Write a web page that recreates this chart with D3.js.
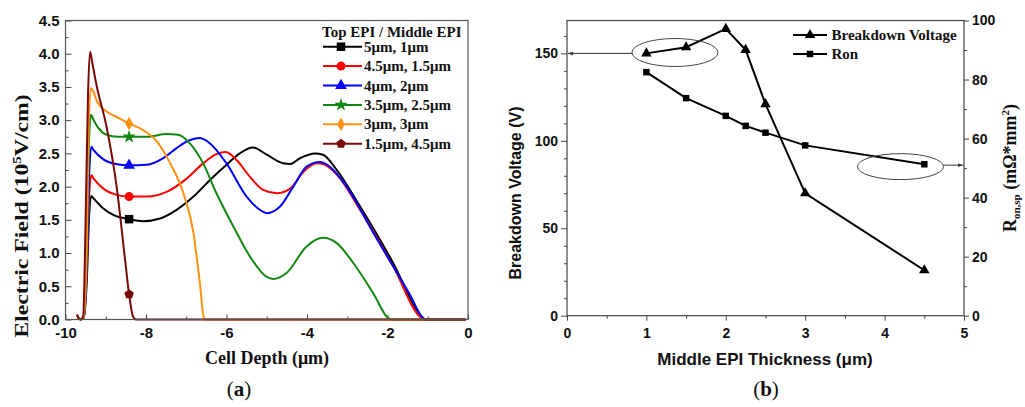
<!DOCTYPE html>
<html>
<head>
<meta charset="utf-8">
<script src="https://cdn.jsdelivr.net/npm/d3@7"></script>
<style>
  html, body { margin: 0; padding: 0; background: #fff; }
  svg { display: block; }
</style>
</head>
<body>
<svg id="fig" width="1025" height="407"></svg>
<script>
// ---------- (a) electric field vs. cell depth, one profile per Top/Middle EPI split ----------
const field5_1 = [[-9.72,0.07],[-9.63,0],[-9.55,0.03],[-9.47,0.6],[-9.41,1.6],[-9.36,1.86],[-9.3,1.82],[-9.06,1.67],[-8.8,1.57],[-8.42,1.51],[-8.07,1.48],[-7.65,1.52],[-7.24,1.65],[-6.82,1.85],[-6.41,2.1],[-6.0,2.33],[-5.67,2.5],[-5.35,2.59],[-5.0,2.48],[-4.59,2.35],[-4.42,2.34],[-4.17,2.43],[-3.8,2.5],[-3.6,2.48],[-3.26,2.25],[-2.68,1.7],[-1.86,0.85],[-1.19,0.07],[-1.07,0],[-0.05,0]];
const field45_15 = [[-9.72,0.07],[-9.63,0],[-9.55,0.03],[-9.47,0.7],[-9.41,1.9],[-9.36,2.17],[-9.3,2.12],[-9.06,1.97],[-8.75,1.88],[-8.42,1.85],[-7.98,1.85],[-7.49,1.92],[-6.99,2.12],[-6.58,2.35],[-6.25,2.49],[-6.02,2.52],[-5.75,2.4],[-5.42,2.15],[-5.09,1.95],[-4.75,1.9],[-4.42,1.97],[-4.09,2.22],[-3.76,2.35],[-3.6,2.34],[-3.26,2.18],[-2.68,1.65],[-1.86,0.8],[-1.15,0.02],[-1.08,0],[-0.05,0]];
const field4_2 = [[-9.72,0.07],[-9.63,0],[-9.55,0.03],[-9.47,0.8],[-9.41,2.2],[-9.36,2.6],[-9.3,2.55],[-9.06,2.41],[-8.75,2.34],[-8.42,2.32],[-7.98,2.33],[-7.57,2.43],[-7.24,2.58],[-6.95,2.69],[-6.68,2.73],[-6.41,2.65],[-6.0,2.35],[-5.5,1.85],[-5.17,1.65],[-5.0,1.6],[-4.67,1.7],[-4.34,2.0],[-4.01,2.3],[-3.68,2.37],[-3.43,2.3],[-3.1,2.07],[-2.27,1.22],[-1.44,0.37],[-1.11,0.02],[-1.04,0],[-0.05,0]];
const field35_25 = [[-9.72,0.07],[-9.63,0],[-9.55,0.03],[-9.47,1.0],[-9.42,2.6],[-9.37,3.08],[-9.3,3.0],[-9.18,2.88],[-8.98,2.78],[-8.7,2.75],[-8.42,2.75],[-7.98,2.75],[-7.49,2.79],[-7.2,2.78],[-6.91,2.65],[-6.58,2.35],[-6.25,1.9],[-5.83,1.4],[-5.42,0.95],[-5.0,0.64],[-4.84,0.61],[-4.51,0.7],[-4.01,1.1],[-3.6,1.23],[-3.26,1.15],[-2.85,0.85],[-2.35,0.39],[-1.98,0.02],[-1.9,0],[-0.05,0]];
const field3_3 = [[-9.72,0.07],[-9.63,0],[-9.55,0.03],[-9.47,1.2],[-9.42,3.0],[-9.37,3.48],[-9.3,3.42],[-9.23,3.3],[-8.98,3.13],[-8.7,3.04],[-8.42,2.95],[-8.07,2.85],[-7.73,2.68],[-7.4,2.35],[-7.07,1.9],[-6.82,1.3],[-6.66,0.54],[-6.56,0.02],[-6.5,0],[-0.05,0]];
const field15_45 = [[-9.72,0.07],[-9.63,0],[-9.56,0.05],[-9.5,1.5],[-9.44,3.4],[-9.39,4.03],[-9.33,3.85],[-9.23,3.53],[-8.98,2.9],[-8.73,2.0],[-8.52,0.9],[-8.42,0.38],[-8.32,0.04],[-8.25,0],[-0.05,0]];

const fieldSeries = [field5_1, field45_15, field4_2, field35_25, field3_3, field15_45];
const splitNames = ["5μm, 1μm", "4.5μm, 1.5μm", "4μm, 2μm", "3.5μm, 2.5μm", "3μm, 3μm", "1.5μm, 4.5μm"];
const splitColors = ["#000000", "#ff0000", "#0000ff", "#118811", "#ff9010", "#7a0a0a"];
const markerDepth = -8.42;
const depthTicks = [-10, -8, -6, -4, -2, 0];
const fieldTicks = [0, 0.5, 1, 1.5, 2, 2.5, 3, 3.5, 4, 4.5];

// ---------- (b) breakdown voltage and specific on-resistance vs. middle EPI thickness ----------
const middleEpi = [1, 1.5, 2, 2.25, 2.5, 3, 4.5];
const breakdownV = [150, 153.5, 164, 152, 121, 70, 26];
const ronSp = [82.5, 73.7, 67.7, 64.3, 62, 57.7, 51.3];
const thicknessTicks = [0, 1, 2, 3, 4, 5];
const voltageTicks = [0, 50, 100, 150];
const ronTicks = [0, 20, 40, 60, 80, 100];

const SERIF = "'Liberation Serif','Times New Roman',serif";
const SANS = "'Liberation Sans',Arial,sans-serif";
const svg = d3.select("#fig");

// pentagon marker for the last split
const symbolPentagon = {
  draw(ctx, size) {
    const r = Math.sqrt(size / 2.378);
    for (let i = 0; i < 5; i++) {
      const a = -Math.PI / 2 + i * 2 * Math.PI / 5;
      const px = r * Math.cos(a), py = r * Math.sin(a);
      if (i === 0) ctx.moveTo(px, py); else ctx.lineTo(px, py);
    }
    ctx.closePath();
  }
};
const splitSymbols = [d3.symbolSquare, d3.symbolCircle, d3.symbolTriangle, d3.symbolStar, d3.symbolDiamond, symbolPentagon];
const splitSizes = [72, 64, 60, 55, 52, 60];

function styleTicks(g, fontFamily, fontSize) {
  g.select(".domain").remove();
  g.selectAll(".tick line").attr("stroke", "#444").attr("stroke-width", 1);
  g.selectAll(".tick text").attr("font-family", fontFamily).attr("font-size", fontSize)
    .attr("font-weight", "bold").attr("fill", "#111");
}

// ================= panel (a) =================
const xA = d3.scaleLinear().domain([-10, 0]).range([65.5, 468]);
const yA = d3.scaleLinear().domain([0, 4.5]).range([319.5, 20.5]);
const gA = svg.append("g");

gA.append("g").attr("transform", `translate(0,${yA(0)})`)
  .call(d3.axisBottom(xA).tickValues(depthTicks).tickSize(-5).tickPadding(8).tickFormat(d => String(d)))
  .call(g => styleTicks(g, SANS, 15));
gA.append("g").attr("transform", `translate(0,${yA(0)})`)
  .call(d3.axisBottom(xA).tickValues(d3.range(-9, 0, 2)).tickSize(-3).tickFormat(""))
  .call(g => styleTicks(g, SANS, 15));
gA.append("g").attr("transform", `translate(${xA(-10)},0)`)
  .call(d3.axisLeft(yA).tickValues(fieldTicks).tickSize(-6).tickPadding(6).tickFormat(d3.format(".1f")))
  .call(g => styleTicks(g, SANS, 15));
gA.append("g").attr("transform", `translate(${xA(-10)},0)`)
  .call(d3.axisLeft(yA).tickValues(d3.range(0.25, 4.5, 0.5)).tickSize(-3).tickFormat(""))
  .call(g => styleTicks(g, SANS, 15));

const lineA = d3.line().x(d => xA(d[0])).y(d => yA(d[1])).curve(d3.curveMonotoneX);
fieldSeries.forEach((s, i) => {
  gA.append("path").datum(s).attr("d", lineA)
    .attr("fill", "none").attr("stroke", splitColors[i]).attr("stroke-width", 2)
    .attr("stroke-linejoin", "round");
});
fieldSeries.forEach((s, i) => {
  const p = s.find(d => d[0] === markerDepth);
  gA.append("path")
    .attr("d", d3.symbol().type(splitSymbols[i]).size(splitSizes[i])())
    .attr("transform", `translate(${xA(p[0])},${yA(p[1])})`)
    .attr("fill", splitColors[i]);
});

gA.append("rect").attr("x", xA(-10)).attr("y", yA(4.5))
  .attr("width", xA(0) - xA(-10)).attr("height", yA(0) - yA(4.5))
  .attr("fill", "none").attr("stroke", "#555").attr("stroke-width", 1.2);

// legend (a)
const legA = gA.append("g").attr("font-family", SERIF).attr("font-weight", "bold").attr("fill", "#111");
legA.append("text").attr("x", 322).attr("y", 36.5).attr("font-size", 15).text("Top EPI / Middle EPI");
splitNames.forEach((name, i) => {
  const cy = 46.7 + i * 19.4;
  legA.append("line").attr("x1", 323).attr("x2", 362).attr("y1", cy).attr("y2", cy)
    .attr("stroke", splitColors[i]).attr("stroke-width", 2);
  legA.append("path").attr("d", d3.symbol().type(splitSymbols[i]).size(splitSizes[i])())
    .attr("transform", `translate(341,${cy})`).attr("fill", splitColors[i]);
  legA.append("text").attr("x", 364).attr("y", cy + 5).attr("font-size", 15).text(name);
});

// axis titles (a)
const yTitleA = gA.append("text").attr("transform", "translate(28,216) rotate(-90) scale(1.25,1)")
  .attr("text-anchor", "middle").attr("font-family", SERIF).attr("font-weight", "bold")
  .attr("font-size", 19).attr("fill", "#111");
yTitleA.append("tspan").text("Electric Field (10");
yTitleA.append("tspan").text("5").attr("font-size", 12).attr("dy", -7);
yTitleA.append("tspan").text("V/cm)").attr("dy", 7);

gA.append("text").attr("x", 267).attr("y", 364).attr("text-anchor", "middle")
  .attr("font-family", SERIF).attr("font-weight", "bold").attr("font-size", 18).attr("fill", "#111")
  .text("Cell Depth (μm)");

const capA = gA.append("text").attr("x", 239).attr("y", 396).attr("text-anchor", "middle")
  .attr("font-family", SERIF).attr("font-size", 21).attr("fill", "#111");
capA.append("tspan").text("(");
capA.append("tspan").text("a").attr("font-weight", "bold");
capA.append("tspan").text(")");

// ================= panel (b) =================
const xB = d3.scaleLinear().domain([0, 5]).range([567, 964]);
const yBL = d3.scaleLinear().domain([0, 168.8]).range([315.7, 20.5]);
const yBR = d3.scaleLinear().domain([0, 100]).range([315.7, 20.5]);
const gB = svg.append("g");

gB.append("g").attr("transform", `translate(0,${yBL(0)})`)
  .call(d3.axisBottom(xB).tickValues(thicknessTicks).tickSize(5).tickPadding(7).tickFormat(d3.format("d")))
  .call(g => styleTicks(g, SANS, 14));
gB.append("g").attr("transform", `translate(0,${yBL(0)})`)
  .call(d3.axisBottom(xB).tickValues(d3.range(0.5, 5, 1)).tickSize(3).tickFormat(""))
  .call(g => styleTicks(g, SANS, 14));
gB.append("g").attr("transform", `translate(${xB(0)},0)`)
  .call(d3.axisLeft(yBL).tickValues(voltageTicks).tickSize(6).tickPadding(3).tickFormat(d3.format("d")))
  .call(g => styleTicks(g, SANS, 14));
gB.append("g").attr("transform", `translate(${xB(0)},0)`)
  .call(d3.axisLeft(yBL).tickValues(d3.range(10, 161, 10).filter(v => v % 50 !== 0)).tickSize(3).tickFormat(""))
  .call(g => styleTicks(g, SANS, 14));
gB.append("g").attr("transform", `translate(${xB(5)},0)`)
  .call(d3.axisRight(yBR).tickValues(ronTicks).tickSize(5).tickPadding(3).tickFormat(d3.format("d")))
  .call(g => styleTicks(g, SANS, 14));
gB.append("g").attr("transform", `translate(${xB(5)},0)`)
  .call(d3.axisRight(yBR).tickValues(d3.range(10, 100, 20)).tickSize(3).tickFormat(""))
  .call(g => styleTicks(g, SANS, 14));

gB.append("rect").attr("x", xB(0)).attr("y", yBR(100))
  .attr("width", xB(5) - xB(0)).attr("height", yBR(0) - yBR(100))
  .attr("fill", "none").attr("stroke", "#444").attr("stroke-width", 1.2);

const lineBV = d3.line().x((d, i) => xB(middleEpi[i])).y(d => yBL(d));
const lineRon = d3.line().x((d, i) => xB(middleEpi[i])).y(d => yBR(d));
gB.append("path").datum(breakdownV).attr("d", lineBV).attr("fill", "none").attr("stroke", "#000").attr("stroke-width", 2);
gB.append("path").datum(ronSp).attr("d", lineRon).attr("fill", "none").attr("stroke", "#000").attr("stroke-width", 2);
const tri = d3.symbol().type(d3.symbolTriangle).size(48)();
const sq = d3.symbol().type(d3.symbolSquare).size(42)();
gB.selectAll(".bvpt").data(breakdownV).join("path").attr("d", tri)
  .attr("transform", (d, i) => `translate(${xB(middleEpi[i])},${yBL(d)})`).attr("fill", "#000");
gB.selectAll(".ronpt").data(ronSp).join("path").attr("d", sq)
  .attr("transform", (d, i) => `translate(${xB(middleEpi[i])},${yBR(d)})`).attr("fill", "#000");

// callouts tying each curve to its axis
const defs = svg.append("defs");
defs.append("marker").attr("id", "arrowHead").attr("viewBox", "0 0 10 10").attr("refX", 10).attr("refY", 5)
  .attr("markerWidth", 6).attr("markerHeight", 5).attr("orient", "auto-start-reverse")
  .append("path").attr("d", "M0,1.5 L10,5 L0,8.5 Z").attr("fill", "#333");

const e1 = { cx: xB(1.36), cy: yBL(150.5), rx: 43, ry: 14 };
gB.append("ellipse").attr("cx", e1.cx).attr("cy", e1.cy).attr("rx", e1.rx).attr("ry", e1.ry)
  .attr("fill", "none").attr("stroke", "#444").attr("stroke-width", 1);
gB.append("line").attr("x1", e1.cx - e1.rx).attr("y1", yBL(150)).attr("x2", xB(0) + 1).attr("y2", yBL(150))
  .attr("stroke", "#333").attr("stroke-width", 1).attr("marker-end", "url(#arrowHead)");

const e2 = { cx: xB(4.2), cy: yBR(50.5), rx: 43, ry: 13 };
gB.append("ellipse").attr("cx", e2.cx).attr("cy", e2.cy).attr("rx", e2.rx).attr("ry", e2.ry)
  .attr("fill", "none").attr("stroke", "#444").attr("stroke-width", 1);
gB.append("line").attr("x1", e2.cx + e2.rx).attr("y1", yBR(51)).attr("x2", xB(5) - 1).attr("y2", yBR(51))
  .attr("stroke", "#333").attr("stroke-width", 1).attr("marker-end", "url(#arrowHead)");

// legend (b)
const legB = gB.append("g").attr("font-family", SERIF).attr("font-weight", "bold").attr("fill", "#111").attr("font-size", 15);
[["Breakdown Voltage", tri, 35], ["Ron", sq, 54]].forEach(([label, shape, cy]) => {
  legB.append("line").attr("x1", 793).attr("x2", 827).attr("y1", cy).attr("y2", cy).attr("stroke", "#000").attr("stroke-width", 2);
  legB.append("path").attr("d", shape).attr("transform", `translate(810,${cy})`).attr("fill", "#000");
  legB.append("text").attr("x", 831.5).attr("y", cy + 5).text(label);
});

// axis titles (b)
gB.append("text").attr("x", 765).attr("y", 365).attr("text-anchor", "middle")
  .attr("font-family", SANS).attr("font-weight", "bold").attr("font-size", 17).attr("fill", "#111")
  .text("Middle EPI Thickness (μm)");
gB.append("text").attr("transform", "translate(521,193) rotate(-90)").attr("text-anchor", "middle")
  .attr("font-family", SANS).attr("font-weight", "bold").attr("font-size", 16).attr("fill", "#111")
  .text("Breakdown Voltage (V)");

const yTitleR = gB.append("text").attr("transform", "translate(1016,168) rotate(-90)").attr("text-anchor", "middle")
  .attr("font-family", SERIF).attr("font-weight", "bold").attr("font-size", 18).attr("fill", "#111");
yTitleR.append("tspan").text("R");
yTitleR.append("tspan").text("on,sp").attr("font-size", 11).attr("dy", 4);
yTitleR.append("tspan").text(" (mΩ*mm").attr("dy", -4);
yTitleR.append("tspan").text("2").attr("font-size", 11).attr("dy", -7);
yTitleR.append("tspan").text(")").attr("dy", 7);

const capB = gB.append("text").attr("x", 766).attr("y", 396).attr("text-anchor", "middle")
  .attr("font-family", SERIF).attr("font-size", 21).attr("fill", "#111");
capB.append("tspan").text("(");
capB.append("tspan").text("b").attr("font-weight", "bold");
capB.append("tspan").text(")");
</script>
</body>
</html>
